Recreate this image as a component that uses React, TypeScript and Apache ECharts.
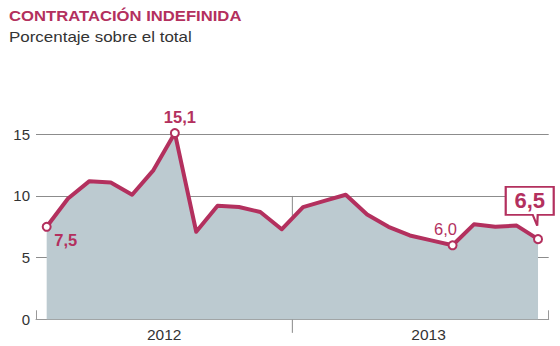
import React, { useEffect, useRef } from "react";
import * as echarts from "echarts";

const months = [
  "ene 12", "feb 12", "mar 12", "abr 12", "may 12", "jun 12",
  "jul 12", "ago 12", "sep 12", "oct 12", "nov 12", "dic 12",
  "ene 13", "feb 13", "mar 13", "abr 13", "may 13", "jun 13",
  "jul 13", "ago 13", "sep 13", "oct 13", "nov 13", "dic 13",
];
const values = [
  7.5, 9.8, 11.2, 11.1, 10.1, 12.1, 15.1, 7.1, 9.2, 9.1, 8.7, 7.3,
  9.1, 9.6, 10.1, 8.5, 7.5, 6.8, 6.4, 6.0, 7.7, 7.5, 7.6, 6.5,
];
const years = ["2012", "2013"];
const yTicks = [0, 5, 10, 15];
const markedIndices = [0, 6, 19, 23];
const yearBoundary = 12;
const dividerTop = 10;
const dividerBottom = -1.1;
const titleText = "CONTRATACIÓN INDEFINIDA";
const subtitleText = "Porcentaje sobre el total";

const CRIMSON = "#b3305e";
const FILL = "#bccad0";
const FONT = "'Liberation Sans', Arial, Helvetica, sans-serif";

const fmt = (v: number) => v.toFixed(1).replace(".", ",");

export default function App() {
  const ref = useRef<HTMLDivElement>(null);
  useEffect(() => {
    if (!ref.current) return;
    const chart = echarts.init(ref.current, undefined, { renderer: "svg" });

    const labelCfg: Record<number, any> = {
      0: { show: true, position: "inside", offset: [19, 13], fontSize: 16.5, fontWeight: "bold" },
      6: { show: true, position: "inside", offset: [5, -16], fontSize: 16.5, fontWeight: "bold" },
      19: { show: true, position: "inside", offset: [-7, -16], fontSize: 16.5, fontWeight: "normal" },
    };

    const data = values.map((v, i) => {
      if (!markedIndices.includes(i)) return { value: v };
      const item: any = {
        value: v,
        symbol: "circle",
        symbolSize: 8,
        itemStyle: { color: "#fff", borderColor: CRIMSON, borderWidth: 2 },
      };
      if (labelCfg[i]) {
        item.label = {
          ...labelCfg[i],
          color: CRIMSON,
          fontFamily: FONT,
          formatter: () => fmt(v),
        };
      }
      return item;
    });

    const last = values.length - 1;

    chart.setOption({
      animation: false,
      graphic: [
        {
          type: "text",
          x: 9,
          y: 9,
          scaleX: 1.19,
          style: {
            text: titleText,
            fill: CRIMSON,
            font: "bold 14px " + FONT,
            align: "left",
            verticalAlign: "top",
          },
        },
        {
          type: "text",
          x: 9,
          y: 29,
          scaleX: 1.13,
          style: {
            text: subtitleText,
            fill: "#333",
            font: "15px " + FONT,
            align: "left",
            verticalAlign: "top",
          },
        },
      ],
      grid: { left: 36, right: 11.3, top: 134.3, bottom: 26.7, containLabel: false },
      xAxis: [
        {
          type: "category",
          data: months,
          boundaryGap: true,
          axisLine: { show: true, lineStyle: { color: "#999", width: 1 } },
          axisTick: { show: true, inside: true, length: 9, interval: 0, lineStyle: { color: "#999" } },
          axisLabel: { show: false },
          splitLine: { show: false },
        },
        {
          type: "category",
          data: years,
          position: "bottom",
          boundaryGap: true,
          axisLine: { show: false },
          axisTick: { show: false },
          axisLabel: {
            margin: 7,
            fontSize: 15.5,
            color: "#333",
            fontFamily: FONT,
            formatter: (val: string) => (val === "2013" ? "{p|" + val + "}" : val),
            rich: { p: { padding: [0, 0, 0, 16], fontSize: 15.5, color: "#333", fontFamily: FONT } },
          },
          splitLine: { show: false },
        },
        {
          type: "value",
          min: 0,
          max: months.length,
          show: false,
        },
      ],
      yAxis: {
        type: "value",
        min: yTicks[0],
        max: yTicks[yTicks.length - 1],
        interval: 5,
        axisLine: { show: false },
        axisTick: { show: false },
        axisLabel: { margin: 6, fontSize: 15, color: "#333", fontFamily: FONT },
        splitLine: { show: true, lineStyle: { color: "#8c8c8c", width: 1 } },
      },
      series: [
        {
          type: "line",
          xAxisIndex: 0,
          data,
          symbol: "none",
          showSymbol: true,
          clip: false,
          lineStyle: { color: CRIMSON, width: 4, join: "round" },
          areaStyle: { color: FILL, opacity: 1 },
          itemStyle: { color: CRIMSON },
          z: 3,
          markPoint: {
            symbol: "path://M0,0 H48 V28 H32 L31.5,39 L27,28 H0 Z",
            symbolSize: [48, 39],
            symbolOffset: [-8.3, -32.8],
            itemStyle: { color: "#fff", borderColor: CRIMSON, borderWidth: 2 },
            label: {
              show: true,
              position: "inside",
              offset: [0, -5.5],
              color: CRIMSON,
              fontSize: 22,
              fontWeight: "bold",
              fontFamily: FONT,
              formatter: () => fmt(values[last]),
            },
            data: [{ coord: [last, values[last]] }],
          },
        },
        {
          type: "line",
          xAxisIndex: 2,
          data: [
            [yearBoundary, dividerTop],
            [yearBoundary, dividerBottom],
          ],
          symbol: "none",
          clip: false,
          silent: true,
          lineStyle: { color: "#888", width: 1 },
          z: 2,
        },
      ],
    });
    return () => chart.dispose();
  }, []);
  return (
    <div
      ref={ref}
      style={{ position: "fixed", left: 0, top: 0, width: 560, height: 346, background: "#fff" }}
    />
  );
}
